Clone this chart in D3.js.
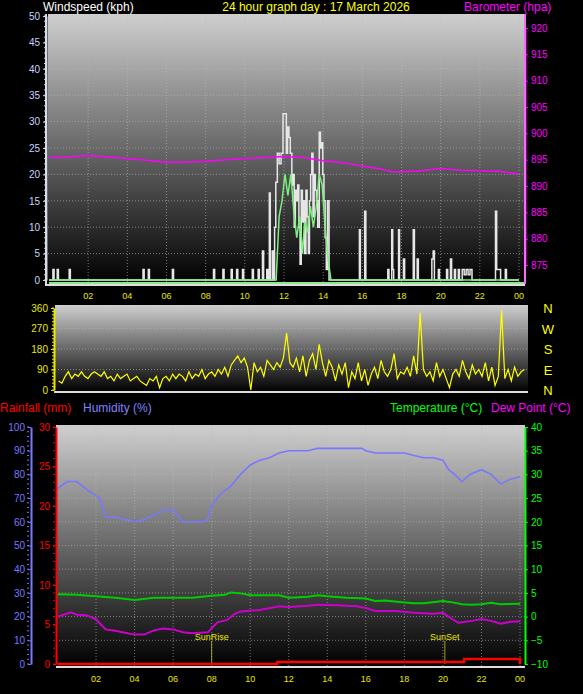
<!DOCTYPE html>
<html><head><meta charset="utf-8">
<script src="https://cdn.jsdelivr.net/npm/d3@7.9.0/dist/d3.min.js"></script>
<style>body{margin:0;background:#000}svg{display:block;font-family:"Liberation Sans",Arial,sans-serif}</style>
</head><body><svg id="c" width="583" height="694"></svg>
<script>
// hour labels
const hourTicks = [2,4,6,8,10,12,14,16,18,20,22,24];
const hourLabel = h => String(h % 24).padStart(2, "0");

// wind gust (kph) [hour, value]
const gust = [[0,0],[0.2,2],[0.26,0],[0.42,2],[0.48,0],[1.03,2],[1.09,0],[4.8,2],[4.86,0],[5.07,2],[5.13,0],[6.3,2],[6.36,0],
  [8.4,2],[8.46,0],[8.88,2],[8.94,0],[9.3,2],[9.36,0],[9.58,2],[9.64,0],[9.88,2],[9.94,0],[10.38,2],[10.44,0],[10.68,2],[10.74,0],
  [10.9,5.5],[10.96,0],[11.12,2],[11.18,0],[11.25,16.5],[11.3,0],[11.4,5.5],[11.46,0],[11.52,10],[11.58,18.5],[11.66,24],[11.75,22],
  [11.85,24],[11.95,31.5],[12.05,31.5],[12.12,24],[12.18,29],[12.25,27],[12.32,24],[12.4,18],[12.46,20],[12.52,10],[12.58,17],
  [12.64,15],[12.7,18],[12.76,10],[12.82,3],[12.88,17],[12.94,11],[13.0,15],[13.06,5],[13.12,17],[13.18,12],[13.24,5],[13.3,15],
  [13.36,20],[13.42,24],[13.48,12],[13.54,20],[13.6,17],[13.66,15],[13.72,10],[13.8,28],[13.86,25],[13.92,26],[13.98,20],
  [14.04,15],[14.1,8],[14.16,2],[14.22,15],[14.3,0],[15.85,9.5],[15.9,0],[16.12,13],[16.18,0],[17.3,2],[17.36,0],[17.5,9.5],
  [17.55,2],[17.6,0],[17.85,9.5],[17.9,0],[18.1,4],[18.16,0],[18.6,9.5],[18.66,0],[18.8,4],[18.86,0],[19.55,4],[19.62,5.5],
  [19.68,0],[19.88,2],[19.94,0],[20.3,2],[20.36,0],[20.5,4],[20.56,0],[20.7,2],[20.76,0],[20.9,2],[20.96,0],[21.1,2],[21.2,1],
  [21.3,2],[21.4,1],[21.5,2],[21.6,0],[22.8,13],[22.86,2],[23.0,2],[23.06,0],[23.3,2],[23.36,0],[24,0]];
// average wind (kph)
const avgWind = [[0,0],[11.6,0],[11.75,12],[11.9,15],[12.05,20],[12.2,16],[12.35,20],[12.5,13],[12.65,8],[12.8,12],[12.95,5],
  [13.05,11],[13.2,9],[13.35,14],[13.5,10],[13.65,14],[13.8,20],[13.95,18],[14.1,10],[14.25,4],[14.4,0],[24,0]];
// barometer (hpa)
const baroHours = [0,1,2,3,4,5,6,7,8,9,10,11,12,13,14,15,16,17,17.5,18,19,20,21,22,23,24];
const baro = [895.4,895.5,895.8,895.5,895.2,894.9,894.5,894.5,894.7,895.0,895.2,895.4,895.6,895.4,894.8,894.4,893.8,893.2,892.7,892.7,892.9,893.3,893.0,892.9,892.8,892.3];

// wind direction (deg), every 10 minutes
const dir = [40,30,60,80,50,70,60,80,60,50,70,80, 70,60,80,50,60,40,70,50,60,70,40,50,
  60,40,30,20,50,40,60,10,50,60,40,70, 50,70,60,40,80,50,70,60,90,50,70,80,
  60,90,70,100,60,110, 130,150,120,140,100,0, 120,80,100,60,130,110, 90,120,100,140,250,120,
  100,140,80,150,60,130, 160,90,200,120,60,130, 100,40,110,70,120,10, 80,50,120,40,90,20,
  70,100,50,130,80,60, 90,160,50,80,70,100, 60,150,70,340,90,60, 80,40,120,60,90,50,
  10,70,90,60,130,80, 50,110,70,90,60,120, 40,100,20,60,350,50, 90,40,100,60,80,90];
const dirTicks = [0,90,180,270,360];
const compass = ["N","E","S","W","N"];

// humidity (%)
const hum = [[0,74],[0.5,77],[1,77],[1.3,75],[1.8,72],[2.2,70],[2.5,62],[3,62],[3.5,61],[4,60],[4.5,61],[5,63],[5.5,65],[6,65],
  [6.5,60],[7,60],[7.5,60],[7.8,61],[8,67],[8.5,72],[9,75],[9.5,80],[10,84],[10.5,86],[11,87],[11.5,89],[12,90],[13,90],
  [13.5,91],[14,91],[15,91],[15.8,91],[16,90],[16.5,89],[17,89],[18,89],[18.5,88],[19,87],[19.5,87],[20,86],[20.3,82],
  [20.6,80],[21,77],[21.4,80],[22,82],[22.5,80],[23,76],[23.5,78],[24,79]];
// temperature (C)
const temp = [[0,4.7],[1,4.6],[2,4.3],[3,4.0],[4,3.5],[5,4.0],[6,4.0],[7,4.0],[8,4.4],[8.7,4.6],[9,5.1],[9.5,4.9],[10,4.5],
  [11,4.5],[11.5,4.5],[12,4.0],[13,4.2],[13.5,4.5],[14,4.3],[15,4.0],[16,3.8],[16.5,3.3],[17,3.4],[18,3.0],[18.5,2.8],
  [19,2.8],[20,3.3],[20.5,3.0],[21,2.6],[21.5,2.5],[22,2.6],[22.5,2.9],[23,2.6],[24,2.7]];
// dew point (C)
const dew = [[0,0],[0.7,0.9],[1,0.4],[1.5,0.3],[2,-0.6],[2.5,-2.7],[3,-3.0],[3.5,-3.4],[4,-3.8],[4.5,-3.8],[5,-2.9],[5.5,-2.5],
  [6,-2.7],[6.5,-3.3],[7,-3.5],[7.8,-3.3],[8.3,-1.2],[8.8,-0.7],[9.2,0.6],[9.5,1.1],[10.5,1.4],[11.5,2.2],[12,2.0],[13,2.3],
  [13.5,2.5],[14.5,2.4],[15.5,2.2],[16,1.8],[16.5,1.2],[17.5,1.2],[18.5,0.8],[19.5,0.6],[20,0.8],[20.4,-0.3],[20.8,-1.3],
  [21.5,-0.9],[22,-0.5],[22.5,-0.9],[23,-1.5],[23.5,-1.1],[24,-1.0]];
// rainfall (mm)
const rain = [[0,0],[11.4,0.25],[21.1,0.62],[24,0]];
const sunRise = 8.0, sunSet = 20.1;

const svg = d3.select("#c");
const defs = svg.append("defs");
const grad = defs.append("linearGradient").attr("id","bg").attr("x1",0).attr("x2",0).attr("y1",0).attr("y2",1);
grad.append("stop").attr("offset","0%").attr("stop-color","#cfcfcf");
grad.append("stop").attr("offset","100%").attr("stop-color","#000");

function panel(x0, x1, y0, y1) {
  svg.append("rect").attr("x",x0).attr("y",y0).attr("width",x1-x0).attr("height",y1-y0).attr("fill","url(#bg)");
}
function gridLines(xs, ys, x0, x1, y0, y1) {
  const g = svg.append("g").attr("stroke","#bbb").attr("stroke-opacity",0.6).attr("stroke-dasharray","1,2");
  xs.forEach(x => g.append("line").attr("x1",x).attr("x2",x).attr("y1",y0).attr("y2",y1));
  ys.forEach(y => g.append("line").attr("x1",x0).attr("x2",x1).attr("y1",y).attr("y2",y));
}
function styleAxis(g, color) {
  g.select(".domain").attr("stroke", color).attr("stroke-width", 2);
  g.selectAll("line").attr("stroke", color);
  g.selectAll("text").attr("fill", color).attr("font-size", 10);
}
function text(x, y, s, color, size, anchor) {
  svg.append("text").attr("x",x).attr("y",y).attr("fill",color).attr("font-size",size)
    .attr("text-anchor",anchor||"start").text(s);
}

// ---- top: wind + barometer
const xT = d3.scaleLinear().domain([0,24]).range([49,519]);
const yW = d3.scaleLinear().domain([0,50]).range([280,16]);
const yB = d3.scaleLinear().domain([875,920]).range([265,28]);
panel(48, 524, 14, 284);
gridLines(hourTicks.map(xT), d3.range(5,51,5).map(yW), 48, 524, 14, 284);

svg.append("path").datum(gust).attr("fill","none").attr("stroke","#e6e6e6").attr("stroke-width",1.5)
  .attr("d", d3.line().x(d=>xT(d[0])).y(d=>yW(d[1])).curve(d3.curveStepAfter));
svg.append("path").datum(avgWind).attr("fill","none").attr("stroke","#7cf07c").attr("stroke-width",1.5)
  .attr("d", d3.line().x(d=>xT(d[0])).y(d=>yW(d[1])));
svg.append("line").attr("x1",49).attr("x2",524).attr("y1",yW(0)+3).attr("y2",yW(0)+3).attr("stroke","#8fe88f").attr("stroke-width",2);
svg.append("path").datum(baroHours.map((h,i)=>[h,baro[i]])).attr("fill","none").attr("stroke","#ff00ff").attr("stroke-width",1.5)
  .attr("d", d3.line().x(d=>xT(d[0])).y(d=>yB(d[1])));

styleAxis(svg.append("g").attr("transform","translate(46,0)")
  .call(d3.axisLeft(yW).tickValues(d3.range(0,51,5)).tickSize(3).tickSizeOuter(0)), "#c8d4ff");
svg.append("g").attr("transform","translate(46,0)").call(g=>g.selectAll("line").data(d3.range(0,51,1)).join("line")
  .attr("x1",-2).attr("x2",0).attr("y1",yW).attr("y2",yW).attr("stroke","#c8d4ff"));
styleAxis(svg.append("g").attr("transform","translate(525,0)")
  .call(d3.axisRight(yB).tickValues(d3.range(875,921,5)).tickSize(3).tickSizeOuter(0)), "#ff00ff");
svg.append("line").attr("x1",525).attr("x2",525).attr("y1",14).attr("y2",284).attr("stroke","#ff66ff").attr("stroke-width",2);
svg.append("line").attr("x1",46).attr("x2",46).attr("y1",14).attr("y2",286).attr("stroke","#ddd").attr("stroke-width",2);
svg.append("line").attr("x1",46).attr("x2",525).attr("y1",285).attr("y2",285).attr("stroke","#ddd").attr("stroke-width",2);
hourTicks.forEach(h => text(xT(h), 299, hourLabel(h), "#e8e800", 9, "middle"));

text(43, 11, "Windspeed (kph)", "#fff", 12);
text(316, 11, "24 hour graph day : 17 March 2026", "#ffff00", 12, "middle");
text(464, 11, "Barometer (hpa)", "#ff00ff", 12);

// ---- middle: wind direction
const xD = d3.scaleLinear().domain([0,24]).range([57,526]);
const yD = d3.scaleLinear().domain([0,360]).range([390,308]);
panel(55, 528, 305, 392);
gridLines([], dirTicks.slice(1).map(yD), 55, 528, 305, 392);
svg.append("path").datum(dir).attr("fill","none").attr("stroke","#ffff00").attr("stroke-width",1.2)
  .attr("d", d3.line().x((d,i)=>xD(i/6+1/12)).y(d=>yD(d)));
styleAxis(svg.append("g").attr("transform","translate(54,0)")
  .call(d3.axisLeft(yD).tickValues(dirTicks).tickSize(3).tickSizeOuter(0)), "#e8e800");
svg.append("g").call(g=>g.selectAll("line").data(d3.range(0,361,15)).join("line")
  .attr("x1",52).attr("x2",54).attr("y1",yD).attr("y2",yD).attr("stroke","#e8e800"));
svg.append("line").attr("x1",54).attr("x2",528).attr("y1",392).attr("y2",392).attr("stroke","#ddd").attr("stroke-width",2);
dirTicks.forEach((d,i) => text(548, yD(d)+5, compass[i], "#ffff00", 13, "middle"));

// ---- legend
text(0, 412, "Rainfall (mm)", "#ff0000", 12);
text(83, 412, "Humidity (%)", "#8080ff", 12);
text(390, 412, "Temperature (°C)", "#00ff00", 12);
text(491, 412, "Dew Point (°C)", "#ff00ff", 12);

// ---- bottom: humidity, rain, temp, dew
const xB = d3.scaleLinear().domain([0,24]).range([57.5,520]);
const yH = d3.scaleLinear().domain([0,100]).range([664,427]);
const yR = d3.scaleLinear().domain([0,30]).range([664,427]);
const yC = d3.scaleLinear().domain([-10,40]).range([664,427]);
panel(56, 525, 425, 667);
gridLines(hourTicks.map(xB), d3.range(10,101,10).map(yH), 56, 525, 425, 667);

const line = y => d3.line().x(d=>xB(d[0])).y(d=>y(d[1]));
svg.append("path").datum(hum).attr("fill","none").attr("stroke","#7878ff").attr("stroke-width",1.6).attr("d", line(yH));
svg.append("path").datum(temp).attr("fill","none").attr("stroke","#00cc00").attr("stroke-width",2).attr("d", line(yC));
svg.append("path").datum(dew).attr("fill","none").attr("stroke","#cc00cc").attr("stroke-width",2).attr("d", line(yC));
[[sunRise,"SunRise"],[sunSet,"SunSet"]].forEach(([h,s]) => {
  svg.append("line").attr("x1",xB(h)).attr("x2",xB(h)).attr("y1",yR(0)).attr("y2",641).attr("stroke","#c8c800").attr("stroke-width",0.8);
  text(xB(h), 640, s, "#e8e800", 9, "middle");
});
svg.append("path").datum(rain).attr("fill","none").attr("stroke","#ff0000").attr("stroke-width",2.5)
  .attr("d", d3.line().x(d=>xB(d[0])).y(d=>yR(d[1])).curve(d3.curveStepAfter));

styleAxis(svg.append("g").attr("transform","translate(31,0)")
  .call(d3.axisLeft(yH).tickValues(d3.range(0,101,10)).tickSize(3).tickSizeOuter(0)), "#7878ff");
svg.append("g").call(g=>g.selectAll("line").data(d3.range(0,101,2)).join("line")
  .attr("x1",27).attr("x2",29).attr("y1",yH).attr("y2",yH).attr("stroke","#7878ff"));
styleAxis(svg.append("g").attr("transform","translate(56,0)")
  .call(d3.axisLeft(yR).tickValues(d3.range(0,31,5)).tickSize(3).tickSizeOuter(0)), "#ff0000");
svg.append("g").call(g=>g.selectAll("line").data(d3.range(0,31,1)).join("line")
  .attr("x1",53).attr("x2",55).attr("y1",yR).attr("y2",yR).attr("stroke","#ff0000"));
styleAxis(svg.append("g").attr("transform","translate(525,0)")
  .call(d3.axisRight(yC).tickValues(d3.range(-10,41,5)).tickSize(3).tickSizeOuter(0)), "#00ff00");
svg.append("line").attr("x1",56).attr("x2",525).attr("y1",667).attr("y2",667).attr("stroke","#ddd").attr("stroke-width",2);
hourTicks.forEach(h => text(xB(h), 682, hourLabel(h), "#e8e800", 9, "middle"));
</script></body></html>
